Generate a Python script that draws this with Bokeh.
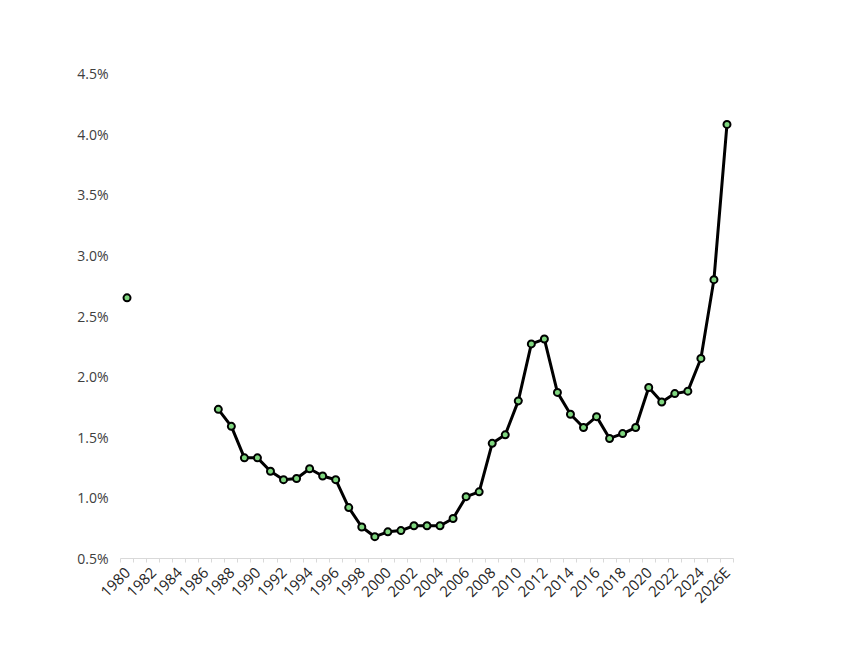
import math
from bokeh.plotting import figure
from bokeh.models import FixedTicker, NumeralTickFormatter, Range1d, ColumnDataSource
from bokeh.embed import file_html
from bokeh.resources import INLINE

# Data
years = list(range(1980, 2027))
labels = [str(y) for y in years[:-1]] + ["2026E"]
values = [2.65, None, None, None, None, None, None,
          1.73, 1.59, 1.33, 1.33, 1.22, 1.15, 1.16, 1.24, 1.18, 1.15,
          0.92, 0.76, 0.68, 0.72, 0.73, 0.77, 0.77, 0.77, 0.83, 1.01,
          1.05, 1.45, 1.52, 1.80, 2.27, 2.31, 1.87, 1.69, 1.58, 1.67,
          1.49, 1.53, 1.58, 1.91, 1.79, 1.86, 1.88, 2.15, 2.80, 4.08]
y_ticks = [0.5, 1.0, 1.5, 2.0, 2.5, 3.0, 3.5, 4.0, 4.5]

ys = [float('nan') if v is None else v / 100.0 for v in values]
src = ColumnDataSource(dict(x=years, y=ys))

FONT = "Open Sans"
p = figure(width=819, height=616, output_backend="svg", toolbar_location=None,
           x_range=Range1d(1979.5, 2026.5), y_range=Range1d(0.005, 0.045),
           min_border_left=120, min_border_right=86, min_border_top=73,
           min_border_bottom=20)
p.outline_line_color = None
p.grid.grid_line_color = None

p.line('x', 'y', source=src, line_color="black", line_width=3)
p.scatter('x', 'y', source=src, size=7, fill_color="#7fd67f", line_color="black", line_width=2)

# y axis
p.yaxis.ticker = FixedTicker(ticks=[t / 100 for t in y_ticks])
p.yaxis.formatter = NumeralTickFormatter(format="0.0%")
p.yaxis.axis_line_color = None
p.yaxis.major_tick_line_color = None
p.yaxis.minor_tick_line_color = None
p.yaxis.major_tick_out = 0
p.yaxis.major_label_standoff = 12
p.yaxis.major_label_text_font = FONT
p.yaxis.major_label_text_font_size = "14px"
p.yaxis.major_label_text_color = "#404040"

# x axis
major = years[::2]
p.xaxis.ticker = FixedTicker(ticks=major, minor_ticks=[y - 0.5 for y in years] + [years[-1] + 0.5])
p.xaxis.major_label_overrides = {y: l for y, l in zip(years, labels) if y in major}
p.xaxis.axis_line_color = "#d9d9d9"
p.xaxis.axis_line_width = 1
p.xaxis.major_tick_line_color = None
p.xaxis.major_tick_out = 0
p.xaxis.major_tick_in = 0
p.xaxis.minor_tick_line_color = "#d9d9d9"
p.xaxis.minor_tick_out = 4
p.xaxis.minor_tick_in = 0
p.xaxis.major_label_orientation = math.pi / 4
p.xaxis.major_label_standoff = 7
p.xaxis.major_label_text_font = FONT
p.xaxis.major_label_text_font_size = "15px"
p.xaxis.major_label_text_color = "#262626"

open("out.html", "w").write(file_html(p, INLINE))
